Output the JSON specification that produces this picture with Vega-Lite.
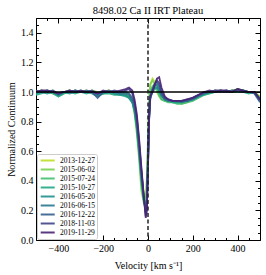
{
"$schema":"https://vega.github.io/schema/vega-lite/v6.json",
"width":224,"height":222,
"autosize":{"type":"none"},
"padding":{"left":36,"top":18,"right":6,"bottom":35},
"title":{"text":"8498.02 Ca II IRT Plateau","font":"Liberation Serif","fontSize":10.5,"fontWeight":"normal","offset":-3,"color":"#000"},
"config":{"view":{"stroke":"#000","strokeWidth":1},
"axis":{"domain":false,"grid":false,"labelFont":"Liberation Serif","titleFont":"Liberation Serif","labelColor":"#000","titleColor":"#000","tickColor":"#000","labelFontSize":10,"titleFontSize":10,"titleFontWeight":"normal"}},
"resolve":{"axis":{"x":"independent","y":"independent"}},
"layer":[
{"data":{"values":[
{"date":"2013-12-27","v":-500,"flux":1.00},{"date":"2013-12-27","v":-475,"flux":1.01},{"date":"2013-12-27","v":-450,"flux":1.00},{"date":"2013-12-27","v":-425,"flux":0.99},{"date":"2013-12-27","v":-400,"flux":0.98},{"date":"2013-12-27","v":-375,"flux":1.00},{"date":"2013-12-27","v":-350,"flux":1.01},{"date":"2013-12-27","v":-325,"flux":1.00},{"date":"2013-12-27","v":-300,"flux":1.00},{"date":"2013-12-27","v":-275,"flux":1.01},{"date":"2013-12-27","v":-250,"flux":1.00},{"date":"2013-12-27","v":-225,"flux":0.99},{"date":"2013-12-27","v":-200,"flux":1.00},{"date":"2013-12-27","v":-175,"flux":1.01},{"date":"2013-12-27","v":-150,"flux":1.00},{"date":"2013-12-27","v":-125,"flux":0.99},{"date":"2013-12-27","v":-100,"flux":0.99},{"date":"2013-12-27","v":-85,"flux":0.98},{"date":"2013-12-27","v":-70,"flux":0.95},{"date":"2013-12-27","v":-60,"flux":0.89},{"date":"2013-12-27","v":-50,"flux":0.78},{"date":"2013-12-27","v":-40,"flux":0.62},{"date":"2013-12-27","v":-30,"flux":0.45},{"date":"2013-12-27","v":-20,"flux":0.31},{"date":"2013-12-27","v":-10,"flux":0.22},{"date":"2013-12-27","v":-5,"flux":0.30},{"date":"2013-12-27","v":0,"flux":0.62},{"date":"2013-12-27","v":5,"flux":0.92},{"date":"2013-12-27","v":10,"flux":1.05},{"date":"2013-12-27","v":20,"flux":1.09},{"date":"2013-12-27","v":30,"flux":1.07},{"date":"2013-12-27","v":40,"flux":1.02},{"date":"2013-12-27","v":50,"flux":0.98},{"date":"2013-12-27","v":60,"flux":0.96},{"date":"2013-12-27","v":75,"flux":0.95},{"date":"2013-12-27","v":90,"flux":0.94},{"date":"2013-12-27","v":110,"flux":0.94},{"date":"2013-12-27","v":130,"flux":0.93},{"date":"2013-12-27","v":150,"flux":0.93},{"date":"2013-12-27","v":175,"flux":0.94},{"date":"2013-12-27","v":200,"flux":0.95},{"date":"2013-12-27","v":225,"flux":0.97},{"date":"2013-12-27","v":250,"flux":0.99},{"date":"2013-12-27","v":275,"flux":1.00},{"date":"2013-12-27","v":300,"flux":1.01},{"date":"2013-12-27","v":325,"flux":1.00},{"date":"2013-12-27","v":350,"flux":1.00},{"date":"2013-12-27","v":375,"flux":1.01},{"date":"2013-12-27","v":400,"flux":1.02},{"date":"2013-12-27","v":425,"flux":1.01},{"date":"2013-12-27","v":450,"flux":1.00},{"date":"2013-12-27","v":475,"flux":1.00},{"date":"2013-12-27","v":500,"flux":0.97},
{"date":"2015-06-02","v":-500,"flux":1.00},{"date":"2015-06-02","v":-475,"flux":1.00},{"date":"2015-06-02","v":-450,"flux":1.01},{"date":"2015-06-02","v":-425,"flux":1.00},{"date":"2015-06-02","v":-400,"flux":0.98},{"date":"2015-06-02","v":-375,"flux":1.00},{"date":"2015-06-02","v":-350,"flux":1.00},{"date":"2015-06-02","v":-325,"flux":1.01},{"date":"2015-06-02","v":-300,"flux":1.00},{"date":"2015-06-02","v":-275,"flux":1.00},{"date":"2015-06-02","v":-250,"flux":1.01},{"date":"2015-06-02","v":-225,"flux":1.00},{"date":"2015-06-02","v":-200,"flux":0.99},{"date":"2015-06-02","v":-175,"flux":1.00},{"date":"2015-06-02","v":-150,"flux":1.00},{"date":"2015-06-02","v":-125,"flux":0.99},{"date":"2015-06-02","v":-100,"flux":0.98},{"date":"2015-06-02","v":-85,"flux":0.97},{"date":"2015-06-02","v":-70,"flux":0.93},{"date":"2015-06-02","v":-60,"flux":0.85},{"date":"2015-06-02","v":-50,"flux":0.72},{"date":"2015-06-02","v":-40,"flux":0.55},{"date":"2015-06-02","v":-30,"flux":0.34},{"date":"2015-06-02","v":-20,"flux":0.26},{"date":"2015-06-02","v":-10,"flux":0.30},{"date":"2015-06-02","v":-5,"flux":0.42},{"date":"2015-06-02","v":0,"flux":0.70},{"date":"2015-06-02","v":5,"flux":0.95},{"date":"2015-06-02","v":10,"flux":1.05},{"date":"2015-06-02","v":20,"flux":1.08},{"date":"2015-06-02","v":30,"flux":1.05},{"date":"2015-06-02","v":40,"flux":1.00},{"date":"2015-06-02","v":50,"flux":0.97},{"date":"2015-06-02","v":60,"flux":0.95},{"date":"2015-06-02","v":75,"flux":0.94},{"date":"2015-06-02","v":90,"flux":0.94},{"date":"2015-06-02","v":110,"flux":0.93},{"date":"2015-06-02","v":130,"flux":0.93},{"date":"2015-06-02","v":150,"flux":0.92},{"date":"2015-06-02","v":175,"flux":0.93},{"date":"2015-06-02","v":200,"flux":0.95},{"date":"2015-06-02","v":225,"flux":0.97},{"date":"2015-06-02","v":250,"flux":0.99},{"date":"2015-06-02","v":275,"flux":1.00},{"date":"2015-06-02","v":300,"flux":1.00},{"date":"2015-06-02","v":325,"flux":1.01},{"date":"2015-06-02","v":350,"flux":1.00},{"date":"2015-06-02","v":375,"flux":1.00},{"date":"2015-06-02","v":400,"flux":1.01},{"date":"2015-06-02","v":425,"flux":1.01},{"date":"2015-06-02","v":450,"flux":1.00},{"date":"2015-06-02","v":475,"flux":0.99},{"date":"2015-06-02","v":500,"flux":0.96},
{"date":"2015-07-24","v":-500,"flux":0.99},{"date":"2015-07-24","v":-475,"flux":1.00},{"date":"2015-07-24","v":-450,"flux":1.00},{"date":"2015-07-24","v":-425,"flux":1.01},{"date":"2015-07-24","v":-400,"flux":0.97},{"date":"2015-07-24","v":-375,"flux":0.99},{"date":"2015-07-24","v":-350,"flux":1.00},{"date":"2015-07-24","v":-325,"flux":1.00},{"date":"2015-07-24","v":-300,"flux":1.01},{"date":"2015-07-24","v":-275,"flux":1.00},{"date":"2015-07-24","v":-250,"flux":1.00},{"date":"2015-07-24","v":-225,"flux":0.99},{"date":"2015-07-24","v":-200,"flux":1.00},{"date":"2015-07-24","v":-175,"flux":1.00},{"date":"2015-07-24","v":-150,"flux":0.99},{"date":"2015-07-24","v":-125,"flux":0.99},{"date":"2015-07-24","v":-100,"flux":0.98},{"date":"2015-07-24","v":-85,"flux":0.97},{"date":"2015-07-24","v":-70,"flux":0.94},{"date":"2015-07-24","v":-60,"flux":0.87},{"date":"2015-07-24","v":-50,"flux":0.75},{"date":"2015-07-24","v":-40,"flux":0.58},{"date":"2015-07-24","v":-30,"flux":0.40},{"date":"2015-07-24","v":-20,"flux":0.27},{"date":"2015-07-24","v":-10,"flux":0.23},{"date":"2015-07-24","v":-5,"flux":0.32},{"date":"2015-07-24","v":0,"flux":0.62},{"date":"2015-07-24","v":5,"flux":0.90},{"date":"2015-07-24","v":10,"flux":1.00},{"date":"2015-07-24","v":20,"flux":1.04},{"date":"2015-07-24","v":30,"flux":1.05},{"date":"2015-07-24","v":40,"flux":1.02},{"date":"2015-07-24","v":50,"flux":0.98},{"date":"2015-07-24","v":60,"flux":0.95},{"date":"2015-07-24","v":75,"flux":0.94},{"date":"2015-07-24","v":90,"flux":0.93},{"date":"2015-07-24","v":110,"flux":0.93},{"date":"2015-07-24","v":130,"flux":0.92},{"date":"2015-07-24","v":150,"flux":0.92},{"date":"2015-07-24","v":175,"flux":0.93},{"date":"2015-07-24","v":200,"flux":0.94},{"date":"2015-07-24","v":225,"flux":0.96},{"date":"2015-07-24","v":250,"flux":0.98},{"date":"2015-07-24","v":275,"flux":0.99},{"date":"2015-07-24","v":300,"flux":1.00},{"date":"2015-07-24","v":325,"flux":1.00},{"date":"2015-07-24","v":350,"flux":1.01},{"date":"2015-07-24","v":375,"flux":1.00},{"date":"2015-07-24","v":400,"flux":1.00},{"date":"2015-07-24","v":425,"flux":1.01},{"date":"2015-07-24","v":450,"flux":1.00},{"date":"2015-07-24","v":475,"flux":1.00},{"date":"2015-07-24","v":500,"flux":0.96},
{"date":"2015-10-27","v":-500,"flux":0.98},{"date":"2015-10-27","v":-475,"flux":0.99},{"date":"2015-10-27","v":-450,"flux":1.00},{"date":"2015-10-27","v":-425,"flux":0.99},{"date":"2015-10-27","v":-400,"flux":0.97},{"date":"2015-10-27","v":-375,"flux":0.99},{"date":"2015-10-27","v":-350,"flux":1.00},{"date":"2015-10-27","v":-325,"flux":0.99},{"date":"2015-10-27","v":-300,"flux":1.00},{"date":"2015-10-27","v":-275,"flux":0.99},{"date":"2015-10-27","v":-250,"flux":1.00},{"date":"2015-10-27","v":-225,"flux":0.98},{"date":"2015-10-27","v":-200,"flux":0.99},{"date":"2015-10-27","v":-175,"flux":0.99},{"date":"2015-10-27","v":-150,"flux":0.98},{"date":"2015-10-27","v":-125,"flux":0.98},{"date":"2015-10-27","v":-100,"flux":0.97},{"date":"2015-10-27","v":-85,"flux":0.96},{"date":"2015-10-27","v":-70,"flux":0.93},{"date":"2015-10-27","v":-60,"flux":0.87},{"date":"2015-10-27","v":-50,"flux":0.76},{"date":"2015-10-27","v":-40,"flux":0.60},{"date":"2015-10-27","v":-30,"flux":0.42},{"date":"2015-10-27","v":-20,"flux":0.28},{"date":"2015-10-27","v":-10,"flux":0.21},{"date":"2015-10-27","v":-5,"flux":0.30},{"date":"2015-10-27","v":0,"flux":0.58},{"date":"2015-10-27","v":5,"flux":0.86},{"date":"2015-10-27","v":10,"flux":0.97},{"date":"2015-10-27","v":20,"flux":1.01},{"date":"2015-10-27","v":30,"flux":1.03},{"date":"2015-10-27","v":40,"flux":1.03},{"date":"2015-10-27","v":50,"flux":1.00},{"date":"2015-10-27","v":60,"flux":0.97},{"date":"2015-10-27","v":75,"flux":0.95},{"date":"2015-10-27","v":90,"flux":0.94},{"date":"2015-10-27","v":110,"flux":0.93},{"date":"2015-10-27","v":130,"flux":0.93},{"date":"2015-10-27","v":150,"flux":0.93},{"date":"2015-10-27","v":175,"flux":0.94},{"date":"2015-10-27","v":200,"flux":0.95},{"date":"2015-10-27","v":225,"flux":0.97},{"date":"2015-10-27","v":250,"flux":0.98},{"date":"2015-10-27","v":275,"flux":0.99},{"date":"2015-10-27","v":300,"flux":1.00},{"date":"2015-10-27","v":325,"flux":1.00},{"date":"2015-10-27","v":350,"flux":1.00},{"date":"2015-10-27","v":375,"flux":1.01},{"date":"2015-10-27","v":400,"flux":1.00},{"date":"2015-10-27","v":425,"flux":1.00},{"date":"2015-10-27","v":450,"flux":0.99},{"date":"2015-10-27","v":475,"flux":1.00},{"date":"2015-10-27","v":500,"flux":0.95},
{"date":"2016-05-20","v":-500,"flux":0.99},{"date":"2016-05-20","v":-475,"flux":1.00},{"date":"2016-05-20","v":-450,"flux":0.99},{"date":"2016-05-20","v":-425,"flux":1.00},{"date":"2016-05-20","v":-400,"flux":0.98},{"date":"2016-05-20","v":-375,"flux":1.00},{"date":"2016-05-20","v":-350,"flux":0.99},{"date":"2016-05-20","v":-325,"flux":1.00},{"date":"2016-05-20","v":-300,"flux":1.00},{"date":"2016-05-20","v":-275,"flux":1.00},{"date":"2016-05-20","v":-250,"flux":0.99},{"date":"2016-05-20","v":-225,"flux":0.97},{"date":"2016-05-20","v":-200,"flux":0.99},{"date":"2016-05-20","v":-175,"flux":1.00},{"date":"2016-05-20","v":-150,"flux":0.99},{"date":"2016-05-20","v":-125,"flux":0.98},{"date":"2016-05-20","v":-100,"flux":0.98},{"date":"2016-05-20","v":-85,"flux":0.96},{"date":"2016-05-20","v":-70,"flux":0.93},{"date":"2016-05-20","v":-60,"flux":0.88},{"date":"2016-05-20","v":-50,"flux":0.77},{"date":"2016-05-20","v":-40,"flux":0.61},{"date":"2016-05-20","v":-30,"flux":0.43},{"date":"2016-05-20","v":-20,"flux":0.29},{"date":"2016-05-20","v":-10,"flux":0.20},{"date":"2016-05-20","v":-5,"flux":0.28},{"date":"2016-05-20","v":0,"flux":0.55},{"date":"2016-05-20","v":5,"flux":0.84},{"date":"2016-05-20","v":10,"flux":0.96},{"date":"2016-05-20","v":20,"flux":1.00},{"date":"2016-05-20","v":30,"flux":1.02},{"date":"2016-05-20","v":40,"flux":1.03},{"date":"2016-05-20","v":50,"flux":1.01},{"date":"2016-05-20","v":60,"flux":0.98},{"date":"2016-05-20","v":75,"flux":0.95},{"date":"2016-05-20","v":90,"flux":0.94},{"date":"2016-05-20","v":110,"flux":0.94},{"date":"2016-05-20","v":130,"flux":0.93},{"date":"2016-05-20","v":150,"flux":0.94},{"date":"2016-05-20","v":175,"flux":0.94},{"date":"2016-05-20","v":200,"flux":0.95},{"date":"2016-05-20","v":225,"flux":0.97},{"date":"2016-05-20","v":250,"flux":0.99},{"date":"2016-05-20","v":275,"flux":1.00},{"date":"2016-05-20","v":300,"flux":1.00},{"date":"2016-05-20","v":325,"flux":1.01},{"date":"2016-05-20","v":350,"flux":1.00},{"date":"2016-05-20","v":375,"flux":1.00},{"date":"2016-05-20","v":400,"flux":1.01},{"date":"2016-05-20","v":425,"flux":1.00},{"date":"2016-05-20","v":450,"flux":1.00},{"date":"2016-05-20","v":475,"flux":0.99},{"date":"2016-05-20","v":500,"flux":0.95},
{"date":"2016-06-15","v":-500,"flux":1.00},{"date":"2016-06-15","v":-475,"flux":1.00},{"date":"2016-06-15","v":-450,"flux":1.01},{"date":"2016-06-15","v":-425,"flux":1.00},{"date":"2016-06-15","v":-400,"flux":0.98},{"date":"2016-06-15","v":-375,"flux":1.00},{"date":"2016-06-15","v":-350,"flux":1.00},{"date":"2016-06-15","v":-325,"flux":1.01},{"date":"2016-06-15","v":-300,"flux":1.00},{"date":"2016-06-15","v":-275,"flux":1.00},{"date":"2016-06-15","v":-250,"flux":1.00},{"date":"2016-06-15","v":-225,"flux":0.98},{"date":"2016-06-15","v":-200,"flux":1.00},{"date":"2016-06-15","v":-175,"flux":1.00},{"date":"2016-06-15","v":-150,"flux":1.00},{"date":"2016-06-15","v":-125,"flux":0.99},{"date":"2016-06-15","v":-100,"flux":0.99},{"date":"2016-06-15","v":-85,"flux":0.98},{"date":"2016-06-15","v":-70,"flux":0.94},{"date":"2016-06-15","v":-60,"flux":0.89},{"date":"2016-06-15","v":-50,"flux":0.79},{"date":"2016-06-15","v":-40,"flux":0.63},{"date":"2016-06-15","v":-30,"flux":0.45},{"date":"2016-06-15","v":-20,"flux":0.30},{"date":"2016-06-15","v":-10,"flux":0.19},{"date":"2016-06-15","v":-5,"flux":0.26},{"date":"2016-06-15","v":0,"flux":0.52},{"date":"2016-06-15","v":5,"flux":0.82},{"date":"2016-06-15","v":10,"flux":0.95},{"date":"2016-06-15","v":20,"flux":1.01},{"date":"2016-06-15","v":30,"flux":1.04},{"date":"2016-06-15","v":40,"flux":1.05},{"date":"2016-06-15","v":50,"flux":1.02},{"date":"2016-06-15","v":60,"flux":0.98},{"date":"2016-06-15","v":75,"flux":0.95},{"date":"2016-06-15","v":90,"flux":0.94},{"date":"2016-06-15","v":110,"flux":0.94},{"date":"2016-06-15","v":130,"flux":0.94},{"date":"2016-06-15","v":150,"flux":0.93},{"date":"2016-06-15","v":175,"flux":0.94},{"date":"2016-06-15","v":200,"flux":0.95},{"date":"2016-06-15","v":225,"flux":0.97},{"date":"2016-06-15","v":250,"flux":0.99},{"date":"2016-06-15","v":275,"flux":1.00},{"date":"2016-06-15","v":300,"flux":1.00},{"date":"2016-06-15","v":325,"flux":1.00},{"date":"2016-06-15","v":350,"flux":1.01},{"date":"2016-06-15","v":375,"flux":1.00},{"date":"2016-06-15","v":400,"flux":1.01},{"date":"2016-06-15","v":425,"flux":1.01},{"date":"2016-06-15","v":450,"flux":1.00},{"date":"2016-06-15","v":475,"flux":1.00},{"date":"2016-06-15","v":500,"flux":0.94},
{"date":"2016-12-22","v":-500,"flux":1.00},{"date":"2016-12-22","v":-475,"flux":1.01},{"date":"2016-12-22","v":-450,"flux":1.00},{"date":"2016-12-22","v":-425,"flux":1.00},{"date":"2016-12-22","v":-400,"flux":0.99},{"date":"2016-12-22","v":-375,"flux":1.00},{"date":"2016-12-22","v":-350,"flux":1.01},{"date":"2016-12-22","v":-325,"flux":1.00},{"date":"2016-12-22","v":-300,"flux":1.00},{"date":"2016-12-22","v":-275,"flux":1.01},{"date":"2016-12-22","v":-250,"flux":1.00},{"date":"2016-12-22","v":-225,"flux":0.96},{"date":"2016-12-22","v":-200,"flux":1.00},{"date":"2016-12-22","v":-175,"flux":1.01},{"date":"2016-12-22","v":-150,"flux":1.00},{"date":"2016-12-22","v":-125,"flux":1.00},{"date":"2016-12-22","v":-100,"flux":1.00},{"date":"2016-12-22","v":-85,"flux":0.99},{"date":"2016-12-22","v":-70,"flux":0.96},{"date":"2016-12-22","v":-60,"flux":0.91},{"date":"2016-12-22","v":-50,"flux":0.81},{"date":"2016-12-22","v":-40,"flux":0.65},{"date":"2016-12-22","v":-30,"flux":0.47},{"date":"2016-12-22","v":-20,"flux":0.31},{"date":"2016-12-22","v":-10,"flux":0.18},{"date":"2016-12-22","v":-5,"flux":0.24},{"date":"2016-12-22","v":0,"flux":0.50},{"date":"2016-12-22","v":5,"flux":0.81},{"date":"2016-12-22","v":10,"flux":0.96},{"date":"2016-12-22","v":20,"flux":1.02},{"date":"2016-12-22","v":30,"flux":1.05},{"date":"2016-12-22","v":40,"flux":1.07},{"date":"2016-12-22","v":50,"flux":1.04},{"date":"2016-12-22","v":60,"flux":0.99},{"date":"2016-12-22","v":75,"flux":0.96},{"date":"2016-12-22","v":90,"flux":0.95},{"date":"2016-12-22","v":110,"flux":0.94},{"date":"2016-12-22","v":130,"flux":0.94},{"date":"2016-12-22","v":150,"flux":0.94},{"date":"2016-12-22","v":175,"flux":0.94},{"date":"2016-12-22","v":200,"flux":0.96},{"date":"2016-12-22","v":225,"flux":0.98},{"date":"2016-12-22","v":250,"flux":0.99},{"date":"2016-12-22","v":275,"flux":1.00},{"date":"2016-12-22","v":300,"flux":1.01},{"date":"2016-12-22","v":325,"flux":1.00},{"date":"2016-12-22","v":350,"flux":1.00},{"date":"2016-12-22","v":375,"flux":1.01},{"date":"2016-12-22","v":400,"flux":1.01},{"date":"2016-12-22","v":425,"flux":1.00},{"date":"2016-12-22","v":450,"flux":1.00},{"date":"2016-12-22","v":475,"flux":0.99},{"date":"2016-12-22","v":500,"flux":0.93},
{"date":"2018-11-03","v":-500,"flux":1.01},{"date":"2018-11-03","v":-475,"flux":1.00},{"date":"2018-11-03","v":-450,"flux":1.00},{"date":"2018-11-03","v":-425,"flux":1.01},{"date":"2018-11-03","v":-400,"flux":0.99},{"date":"2018-11-03","v":-375,"flux":1.00},{"date":"2018-11-03","v":-350,"flux":1.00},{"date":"2018-11-03","v":-325,"flux":1.01},{"date":"2018-11-03","v":-300,"flux":1.00},{"date":"2018-11-03","v":-275,"flux":1.00},{"date":"2018-11-03","v":-250,"flux":1.01},{"date":"2018-11-03","v":-225,"flux":0.99},{"date":"2018-11-03","v":-200,"flux":1.00},{"date":"2018-11-03","v":-175,"flux":1.00},{"date":"2018-11-03","v":-150,"flux":1.01},{"date":"2018-11-03","v":-125,"flux":1.00},{"date":"2018-11-03","v":-100,"flux":1.01},{"date":"2018-11-03","v":-85,"flux":1.02},{"date":"2018-11-03","v":-70,"flux":0.99},{"date":"2018-11-03","v":-60,"flux":0.93},{"date":"2018-11-03","v":-50,"flux":0.83},{"date":"2018-11-03","v":-40,"flux":0.67},{"date":"2018-11-03","v":-30,"flux":0.48},{"date":"2018-11-03","v":-20,"flux":0.31},{"date":"2018-11-03","v":-10,"flux":0.16},{"date":"2018-11-03","v":-5,"flux":0.22},{"date":"2018-11-03","v":0,"flux":0.52},{"date":"2018-11-03","v":5,"flux":0.84},{"date":"2018-11-03","v":10,"flux":0.97},{"date":"2018-11-03","v":20,"flux":1.01},{"date":"2018-11-03","v":30,"flux":1.05},{"date":"2018-11-03","v":40,"flux":1.08},{"date":"2018-11-03","v":50,"flux":1.06},{"date":"2018-11-03","v":60,"flux":1.00},{"date":"2018-11-03","v":75,"flux":0.96},{"date":"2018-11-03","v":90,"flux":0.95},{"date":"2018-11-03","v":110,"flux":0.94},{"date":"2018-11-03","v":130,"flux":0.94},{"date":"2018-11-03","v":150,"flux":0.94},{"date":"2018-11-03","v":175,"flux":0.95},{"date":"2018-11-03","v":200,"flux":0.96},{"date":"2018-11-03","v":225,"flux":0.98},{"date":"2018-11-03","v":250,"flux":1.00},{"date":"2018-11-03","v":275,"flux":1.00},{"date":"2018-11-03","v":300,"flux":1.01},{"date":"2018-11-03","v":325,"flux":1.01},{"date":"2018-11-03","v":350,"flux":1.00},{"date":"2018-11-03","v":375,"flux":1.00},{"date":"2018-11-03","v":400,"flux":1.02},{"date":"2018-11-03","v":425,"flux":1.01},{"date":"2018-11-03","v":450,"flux":1.00},{"date":"2018-11-03","v":475,"flux":1.00},{"date":"2018-11-03","v":500,"flux":0.95},
{"date":"2019-11-29","v":-500,"flux":1.00},{"date":"2019-11-29","v":-475,"flux":1.01},{"date":"2019-11-29","v":-450,"flux":1.01},{"date":"2019-11-29","v":-425,"flux":1.00},{"date":"2019-11-29","v":-400,"flux":0.99},{"date":"2019-11-29","v":-375,"flux":1.00},{"date":"2019-11-29","v":-350,"flux":1.01},{"date":"2019-11-29","v":-325,"flux":1.00},{"date":"2019-11-29","v":-300,"flux":1.01},{"date":"2019-11-29","v":-275,"flux":1.00},{"date":"2019-11-29","v":-250,"flux":1.00},{"date":"2019-11-29","v":-225,"flux":0.99},{"date":"2019-11-29","v":-200,"flux":1.01},{"date":"2019-11-29","v":-175,"flux":1.00},{"date":"2019-11-29","v":-150,"flux":1.00},{"date":"2019-11-29","v":-125,"flux":1.01},{"date":"2019-11-29","v":-100,"flux":1.02},{"date":"2019-11-29","v":-85,"flux":1.03},{"date":"2019-11-29","v":-70,"flux":1.01},{"date":"2019-11-29","v":-60,"flux":0.95},{"date":"2019-11-29","v":-50,"flux":0.85},{"date":"2019-11-29","v":-40,"flux":0.69},{"date":"2019-11-29","v":-30,"flux":0.50},{"date":"2019-11-29","v":-20,"flux":0.32},{"date":"2019-11-29","v":-10,"flux":0.15},{"date":"2019-11-29","v":-5,"flux":0.20},{"date":"2019-11-29","v":0,"flux":0.50},{"date":"2019-11-29","v":5,"flux":0.82},{"date":"2019-11-29","v":10,"flux":0.97},{"date":"2019-11-29","v":20,"flux":1.00},{"date":"2019-11-29","v":30,"flux":1.05},{"date":"2019-11-29","v":40,"flux":1.09},{"date":"2019-11-29","v":50,"flux":1.10},{"date":"2019-11-29","v":60,"flux":1.03},{"date":"2019-11-29","v":75,"flux":0.97},{"date":"2019-11-29","v":90,"flux":0.95},{"date":"2019-11-29","v":110,"flux":0.94},{"date":"2019-11-29","v":130,"flux":0.94},{"date":"2019-11-29","v":150,"flux":0.94},{"date":"2019-11-29","v":175,"flux":0.95},{"date":"2019-11-29","v":200,"flux":0.96},{"date":"2019-11-29","v":225,"flux":0.98},{"date":"2019-11-29","v":250,"flux":1.00},{"date":"2019-11-29","v":275,"flux":1.01},{"date":"2019-11-29","v":300,"flux":1.00},{"date":"2019-11-29","v":325,"flux":1.01},{"date":"2019-11-29","v":350,"flux":1.01},{"date":"2019-11-29","v":375,"flux":1.00},{"date":"2019-11-29","v":400,"flux":1.02},{"date":"2019-11-29","v":425,"flux":1.01},{"date":"2019-11-29","v":450,"flux":1.00},{"date":"2019-11-29","v":475,"flux":1.00},{"date":"2019-11-29","v":500,"flux":0.95}
]},
"mark":{"type":"line","strokeWidth":1.8,"opacity":0.9,"clip":true},
"encoding":{
"x":{"field":"v","type":"quantitative","scale":{"domain":[-500,500],"nice":false,"zero":false},
"axis":{"title":"Velocity [km s⁻¹]","values":[-500,-450,-400,-350,-300,-250,-200,-150,-100,-50,0,50,100,150,200,250,300,350,400,450,500],"format":"d","labelExpr":"datum.value % 200 === 0 ? datum.label : ''","tickSize":{"condition":{"test":"datum.value % 200 === 0","value":-5},"value":-2.5},"labelPadding":8,"labelFlush":false,"labelOverlap":false,"titlePadding":5}},
"y":{"field":"flux","type":"quantitative","scale":{"domain":[0,1.5],"nice":false,"zero":false},
"axis":{"title":"Normalized Continuum","values":[0,0.05,0.1,0.15,0.2,0.25,0.3,0.35,0.4,0.45,0.5,0.55,0.6,0.65,0.7,0.75,0.8,0.85,0.9,0.95,1,1.05,1.1,1.15,1.2,1.25,1.3,1.35,1.4,1.45,1.5],"format":".1f","labelExpr":"round(datum.value*100) % 20 === 0 ? datum.label : ''","tickSize":{"condition":{"test":"round(datum.value*100) % 20 === 0","value":-5},"value":-2.5},"labelPadding":8,"labelFlush":false,"labelOverlap":false,"titlePadding":4}},
"color":{"field":"date","type":"nominal","scale":{"domain":["2013-12-27","2015-06-02","2015-07-24","2015-10-27","2016-05-20","2016-06-15","2016-12-22","2018-11-03","2019-11-29"],"range":["#bddf26","#7ad151","#44bf70","#22a884","#21918c","#2a788e","#355f8d","#414487","#482475"]},
"legend":{"title":null,"orient":"none","legendX":1,"legendY":136,"fillColor":"#fff","strokeColor":"#ccc","cornerRadius":2,"padding":2,"labelFont":"Liberation Serif","labelFontSize":7.5,"labelColor":"#000","symbolType":"M-0.8,0H3.2","symbolStrokeWidth":2,"symbolSize":49,"rowPadding":0,"labelOffset":12}}
}},
{"data":{"values":[{"y":1}]},
"mark":{"type":"rule","color":"#000","strokeWidth":1.3},
"encoding":{"y":{"field":"y","type":"quantitative",
"axis":{"orient":"right","title":null,"labels":false,"values":[0,0.05,0.1,0.15,0.2,0.25,0.3,0.35,0.4,0.45,0.5,0.55,0.6,0.65,0.7,0.75,0.8,0.85,0.9,0.95,1,1.05,1.1,1.15,1.2,1.25,1.3,1.35,1.4,1.45,1.5],"tickSize":{"condition":{"test":"round(datum.value*100) % 20 === 0","value":-5},"value":-2.5}}}}},
{"data":{"values":[{"x":0}]},
"mark":{"type":"rule","color":"#222","strokeWidth":1.5,"strokeDash":[4,2.5]},
"encoding":{"x":{"field":"x","type":"quantitative",
"axis":{"orient":"top","title":null,"labels":false,"values":[-500,-450,-400,-350,-300,-250,-200,-150,-100,-50,0,50,100,150,200,250,300,350,400,450,500],"tickSize":{"condition":{"test":"datum.value % 200 === 0","value":-5},"value":-2.5}}}}}
]
}
